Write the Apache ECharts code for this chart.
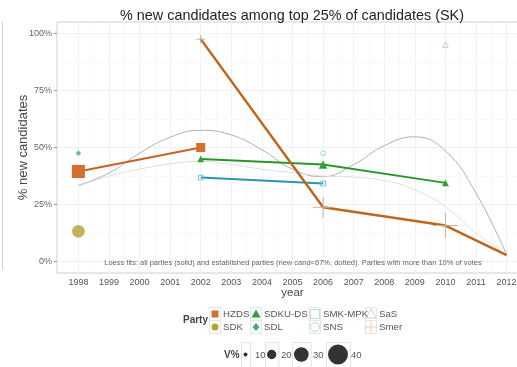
<!DOCTYPE html>
<html>
<head>
<meta charset="utf-8">
<script src="https://cdn.jsdelivr.net/npm/echarts@6/dist/echarts.min.js"></script>
<style>html,body{margin:0;padding:0;background:#fff;overflow:hidden}#c{width:517px;height:367px}</style>
</head>
<body>
<div id="c"></div>
<script>
// ---- data ----
const yearTicks = [1998,1999,2000,2001,2002,2003,2004,2005,2006,2007,2008,2009,2010,2011,2012];
const pctTicks = [0,25,50,75,100];
const sizeBreaks = [10,20,30,40];

const hzdsYears = [1998,2002];            const hzdsPct = [39.5,50];          const hzdsVotes = [27.0,19.5];
const sdkYears = [1998];                  const sdkPct = [13.3];              const sdkVotes = [26.3];
const sdkuYears = [2002,2006,2010];       const sdkuPct = [45,42.5,34.5];     const sdkuVotes = [15.1,18.4,15.4];
const sdlYears = [1998];                  const sdlPct = [47.5];              const sdlVotes = [14.7];
const smkYears = [2002,2006];             const smkPct = [36.8,34.2];         const smkVotes = [11.2,11.7];
const snsYears = [2006];                  const snsPct = [47.5];              const snsVotes = [11.7];
const sasYears = [2010];                  const sasPct = [95];                const sasVotes = [12.1];
const smerYears = [2002,2006,2010,2012];  const smerPct = [97.5,23.8,15.8,2.8]; const smerVotes = [13.5,29.1,34.8,null];

const loessAll = [33.5,38.8,47.5,54.5,57.5,55.5,49,40.5,37.2,42.5,50.8,54.7,48.5,30,3];
const loessEst = [33,37.5,40.5,42.8,44,42.5,40.5,39,37.5,37,35.5,31.5,24,12.5,3];

// ---- helpers ----
const sz = v => 4 + (v - 10) * 0.533;
const pts = (ys, ps, vs) => ys.map((y, i) => vs[i] == null ? {value:[y, ps[i], null], symbol:'none'} : [y, ps[i], vs[i]]);
const plusPath = 'path://M5 0L5 10M0 5L10 5';
const FONT = 'Liberation Sans, Arial, sans-serif';

const chart = echarts.init(document.getElementById('c'), null, {renderer:'canvas'});

const gridLines = [];
yearTicks.forEach(y => gridLines.push({xAxis:y, lineStyle:{color:'#f1f1f1', width:1, type:'solid'}}));
yearTicks.slice(0,-1).forEach(y => gridLines.push({xAxis:y+0.5, lineStyle:{color:'#f8f8f8', width:1, type:'solid'}}));
pctTicks.forEach(p => gridLines.push({yAxis:p, lineStyle:{color:'#f1f1f1', width:1, type:'solid'}}));
[12.5,37.5,62.5,87.5].forEach(p => gridLines.push({yAxis:p, lineStyle:{color:'#f8f8f8', width:1, type:'solid'}}));

function partyLine(name, ys, ps, vs, symbol, itemStyle, lineColor, lw, symScale) {
  return {
    name, type:'line', zlevel:1, z:5, data: pts(ys, ps, vs), symbol,
    symbolSize: v => sz(v[2]) * (symScale || 1),
    itemStyle, lineStyle:{color:lineColor, width:lw}, showSymbol:true, showAllSymbol:true
  };
}
function partyPoint(name, ys, ps, vs, symbol, itemStyle, symScale) {
  return {
    name, type:'scatter', zlevel:1, z:6, data: pts(ys, ps, vs), symbol,
    symbolSize: v => sz(v[2]) * (symScale || 1), itemStyle
  };
}

const series = [
  {type:'line', data:[], zlevel:0, z:0, silent:true,
   markLine:{silent:true, symbol:'none', label:{show:false}, animation:false, lineStyle:{type:'solid'}, data:gridLines}},
  {name:'loessAll', type:'line', smooth:0.45, zlevel:1, z:2, symbol:'none', data: yearTicks.map((y,i)=>[y, loessAll[i]]),
   lineStyle:{color:'#b0b0b0', width:1}},
  {name:'loessEst', type:'line', smooth:0.45, zlevel:1, z:2, symbol:'none', data: yearTicks.map((y,i)=>[y, loessEst[i]]),
   lineStyle:{color:'#dedede', width:1}},
  partyLine('SMK-MPK', smkYears, smkPct, smkVotes, 'rect', {color:'rgba(0,0,0,0)', borderColor:'#6cc4dc', borderWidth:1}, '#2c93b3', 2),
  partyLine('SDKU-DS', sdkuYears, sdkuPct, sdkuVotes, 'triangle', {color:'#33a033'}, '#2a962a', 2),
  partyLine('HZDS', hzdsYears, hzdsPct, hzdsVotes, 'rect', {color:'#d2702e'}, '#c8641f', 2),
  partyPoint('SDK', sdkYears, sdkPct, sdkVotes, 'circle', {color:'#b3a330'}),
  partyPoint('SDL', sdlYears, sdlPct, sdlVotes, 'diamond', {color:'#3aaa8c'}, 0.85),
  partyPoint('SNS', snsYears, snsPct, snsVotes, 'circle', {color:'rgba(0,0,0,0)', borderColor:'#8ec6d6', borderWidth:1}),
  partyPoint('SaS', sasYears, sasPct, sasVotes, 'triangle', {color:'rgba(0,0,0,0)', borderColor:'#c6b0d6', borderWidth:1}, 1.1),
  partyLine('Smer', smerYears, smerPct, smerVotes, plusPath, {color:'rgba(0,0,0,0)', borderColor:'#c4b09a', borderWidth:1}, '#c0651c', 2.5, 1.45)
];

// legend graphics
const g = [];
const Z = {zlevel:1, z:10};
g.push({type:'line', ...Z, shape:{x1:2.5,y1:22,x2:2.5,y2:270}, style:{stroke:'#d0d0d0', lineWidth:1}});
g.push({type:'text', ...Z, x:293, y:263, style:{text:'Loess fits: all parties (solid) and established parties (new cand<67%, dotted). Parties with more than 10% of votes', font:'7.5px '+FONT, fill:'#666', textAlign:'center', textVerticalAlign:'middle'}});
g.push({type:'text', ...Z, x:183, y:320, style:{text:'Party', font:'bold 10px '+FONT, fill:'#444', textVerticalAlign:'middle'}});
const cols = [209, 250, 309, 365];
const rows = [313.5, 326.5];
cols.forEach(cx => rows.forEach(ry => g.push({type:'rect', ...Z, shape:{x:cx+0.5, y:ry-6, width:11, height:13}, style:{fill:'#fff', stroke:'#e4e4e4', lineWidth:1}})));
const legItems = [
  ['HZDS',0,0],['SDK',0,1],['SDKU-DS',1,0],['SDL',1,1],['SMK-MPK',2,0],['SNS',2,1],['SaS',3,0],['Smer',3,1]
];
legItems.forEach(([t,c,r]) => g.push({type:'text', ...Z, x:cols[c]+14, y:rows[r]+0.5, style:{text:t, font:'9.7px '+FONT, fill:'#555', textVerticalAlign:'middle'}}));
const kx = c => cols[c] + 6, ky = r => rows[r] + 0.5;
const Z2 = {zlevel:1, z:11};
g.push({type:'rect', ...Z2, shape:{x:kx(0)-3.5, y:ky(0)-3.5, width:7, height:7}, style:{fill:'#d2702e'}});
g.push({type:'circle', ...Z2, shape:{cx:kx(0), cy:ky(1), r:3.5}, style:{fill:'#b3a330'}});
g.push({type:'polygon', ...Z2, shape:{points:[[kx(1),ky(0)-4.5],[kx(1)+4.5,ky(0)+3.5],[kx(1)-4.5,ky(0)+3.5]]}, style:{fill:'#33a033'}});
g.push({type:'polygon', ...Z2, shape:{points:[[kx(1),ky(1)-4],[kx(1)+3.5,ky(1)],[kx(1),ky(1)+4],[kx(1)-3.5,ky(1)]]}, style:{fill:'#3aaa8c'}});
g.push({type:'rect', ...Z2, shape:{x:kx(2)-4.5, y:ky(0)-4.5, width:9, height:9}, style:{fill:'none', stroke:'#b8dde8', lineWidth:1}});
g.push({type:'circle', ...Z2, shape:{cx:kx(2), cy:ky(1), r:4.5}, style:{fill:'none', stroke:'#b8d6e0', lineWidth:1}});
g.push({type:'polygon', ...Z2, shape:{points:[[kx(3),ky(0)-5],[kx(3)+5,ky(0)+4],[kx(3)-5,ky(0)+4]]}, style:{fill:'none', stroke:'#d6c6e0', lineWidth:1}});
g.push({type:'line', ...Z2, shape:{x1:kx(3), y1:ky(1)-6, x2:kx(3), y2:ky(1)+6}, style:{stroke:'#e6cda8', lineWidth:1}});
g.push({type:'line', ...Z2, shape:{x1:kx(3)-6, y1:ky(1), x2:kx(3)+6, y2:ky(1)}, style:{stroke:'#e6cda8', lineWidth:1}});

// size legend
g.push({type:'text', ...Z, x:224, y:355, style:{text:'V%', font:'bold 10px '+FONT, fill:'#444', textVerticalAlign:'middle'}});
const sBoxX = [241, 265, 292, 326];
const sLabX = [255, 281, 313, 351];
sizeBreaks.forEach((v,i) => {
  const d = sz(v);
  const w = Math.max(9, d + 4);
  const cx = sBoxX[i] + w/2;
  g.push({type:'rect', ...Z, shape:{x:sBoxX[i]+0.5, y:342.5, width:w, height:30}, style:{fill:'#fff', stroke:'#e4e4e4', lineWidth:1}});
  g.push({type:'circle', ...Z2, shape:{cx:cx, cy:354.5, r:d/2}, style:{fill:'#333'}});
  g.push({type:'text', ...Z, x:sLabX[i], y:355, style:{text:String(v), font:'9.5px '+FONT, fill:'#555', textVerticalAlign:'middle'}});
});

chart.setOption({
  animation:false,
  backgroundColor:'#fff',
  title:{text:'% new candidates among top 25% of candidates (SK)', left:115, top:4,
    textStyle:{fontFamily:FONT, fontSize:14.4, fontWeight:'normal', color:'#222'}},
  grid:{left:57, top:22, width:471, bottom:94, show:true, borderColor:'#cfcfcf', borderWidth:1, backgroundColor:'#fff',
    containLabel:false, outerBoundsMode:'none'},
  xAxis:{type:'value', min:1997.3, max:2012.7, name:'year', nameLocation:'middle', nameGap:14, nameMoveOverlap:false,
    nameTextStyle:{fontFamily:FONT, fontSize:11.5, color:'#444'},
    axisLine:{show:false}, splitLine:{show:false},
    axisTick:{show:true, length:3, lineStyle:{color:'#999'}, customValues:yearTicks},
    axisLabel:{customValues:yearTicks, fontFamily:FONT, fontSize:9, color:'#555', margin:5, formatter: v => String(v)}},
  yAxis:{type:'value', min:-5, max:105, name:'% new candidates', nameLocation:'middle', nameGap:27, nameRotate:90, nameMoveOverlap:false,
    nameTextStyle:{fontFamily:FONT, fontSize:13, color:'#444'},
    axisLine:{show:false}, splitLine:{show:false},
    axisTick:{show:true, length:3, lineStyle:{color:'#999'}, customValues:pctTicks},
    axisLabel:{customValues:pctTicks, fontFamily:FONT, fontSize:9, color:'#666', margin:5, formatter: v => v + '%'}},
  series,
  graphic:g
});
</script>
</body>
</html>
